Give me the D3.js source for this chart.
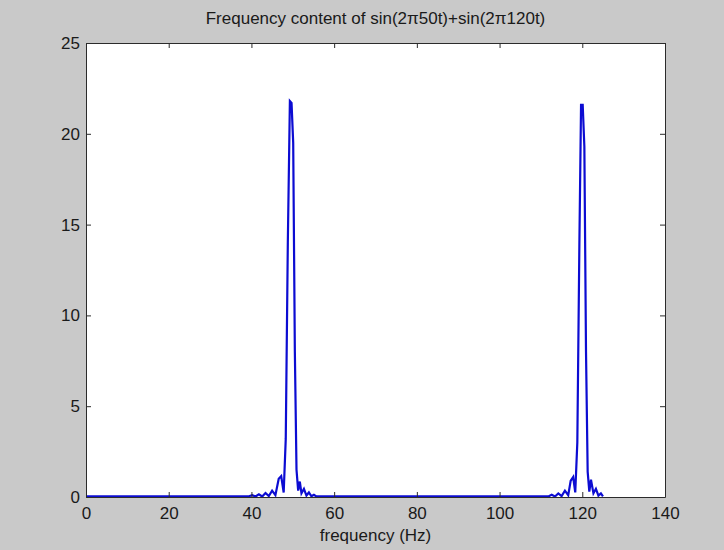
<!DOCTYPE html>
<html>
<head>
<meta charset="utf-8">
<script src="https://cdn.jsdelivr.net/npm/d3@7/dist/d3.min.js"></script>
<style>
  body { margin: 0; background: #c9c9c9; }
  text { font-family: "Liberation Sans", Arial, sans-serif; fill: #1a1a1a; }
</style>
</head>
<body>
<script>
// spectrum (Hz, magnitude)
var freq = [0, 39.2, 40.2, 41.0, 41.8, 42.6, 43.4, 44.2, 45.0, 45.8, 46.6, 47.2, 47.8, 48.3, 48.8, 49.3, 49.7, 50.1, 50.5, 50.9, 51.3, 51.7, 52.1, 52.7, 53.3, 53.9, 54.5, 55.1, 55.7, 56.4,
            111.8, 112.6, 113.4, 114.2, 115.0, 115.8, 116.6, 117.2, 117.8, 118.3, 118.8, 119.3, 119.7, 120.1, 120.5, 120.9, 121.3, 121.7, 122.1, 122.7, 123.3, 123.9, 124.5, 125];
var mag  = [0.03, 0.03, 0.1, 0.03, 0.15, 0.03, 0.22, 0.05, 0.35, 0.1, 1.0, 1.15, 0.25, 3.2, 14, 21.8, 21.7, 19.5, 8, 1.5, 0.35, 0.85, 0.2, 0.45, 0.08, 0.25, 0.04, 0.12, 0.03, 0.03,
            0.03, 0.12, 0.03, 0.2, 0.05, 0.35, 0.1, 0.9, 1.1, 0.25, 3.0, 14, 21.6, 21.6, 19.3, 8, 1.4, 0.3, 0.95, 0.2, 0.45, 0.08, 0.2, 0.03];

var xTicks = [0, 20, 40, 60, 80, 100, 120, 140];
var yTicks = [0, 5, 10, 15, 20, 25];

var w = 724, h = 550;
var pLeft = 86, pRight = 665, pTop = 43, pBottom = 497;
var fontSize = "17px";

var svg = d3.select("body").append("svg").attr("width", w).attr("height", h);

var xScale = d3.scaleLinear().domain([0, 140]).range([pLeft, pRight]);
var yScale = d3.scaleLinear().domain([0, 25]).range([pBottom, pTop]);

// white axes box
svg.append("rect")
    .attr("x", pLeft).attr("y", pTop)
    .attr("width", pRight - pLeft).attr("height", pBottom - pTop)
    .attr("fill", "white");

// spectrum line
var line = d3.line()
    .x(function(d, i) { return xScale(freq[i]); })
    .y(function(d) { return yScale(d); });

svg.append("path")
    .datum(mag)
    .attr("d", line)
    .attr("fill", "none")
    .attr("stroke", "#0c0cd2")
    .attr("stroke-width", 2.2)
    .attr("stroke-linejoin", "miter");

// axes (ticks inside, like matlab)
var xAxis = d3.axisBottom(xScale).tickValues(xTicks).tickSizeInner(-5).tickSizeOuter(0).tickPadding(10);
var xAxisTop = d3.axisTop(xScale).tickValues(xTicks).tickSizeInner(-5).tickSizeOuter(0).tickFormat("");
var yAxis = d3.axisLeft(yScale).tickValues(yTicks).tickSizeInner(-5).tickSizeOuter(0).tickPadding(6);
var yAxisRight = d3.axisRight(yScale).tickValues(yTicks).tickSizeInner(-5).tickSizeOuter(0).tickFormat("");

function styleAxis(g) {
    g.select(".domain").attr("stroke", "#2b2b2b");
    g.selectAll(".tick line").attr("stroke", "#2b2b2b");
    g.selectAll("text").attr("font-size", fontSize).attr("fill", "#1a1a1a");
}

svg.append("g").attr("transform", "translate(0," + pBottom + ")").call(xAxis).call(styleAxis);
svg.append("g").attr("transform", "translate(0," + pTop + ")").call(xAxisTop).call(styleAxis);
svg.append("g").attr("transform", "translate(" + pLeft + ",0)").call(yAxis).call(styleAxis);
svg.append("g").attr("transform", "translate(" + pRight + ",0)").call(yAxisRight).call(styleAxis);

// title and x label
svg.append("text")
    .text("Frequency content of sin(2\u03C050t)+sin(2\u03C0120t)")
    .attr("x", (pLeft + pRight) / 2)
    .attr("y", 24)
    .attr("text-anchor", "middle")
    .attr("font-size", fontSize);

svg.append("text")
    .text("frequency (Hz)")
    .attr("x", (pLeft + pRight) / 2)
    .attr("y", 541)
    .attr("text-anchor", "middle")
    .attr("font-size", fontSize);
</script>
</body>
</html>
